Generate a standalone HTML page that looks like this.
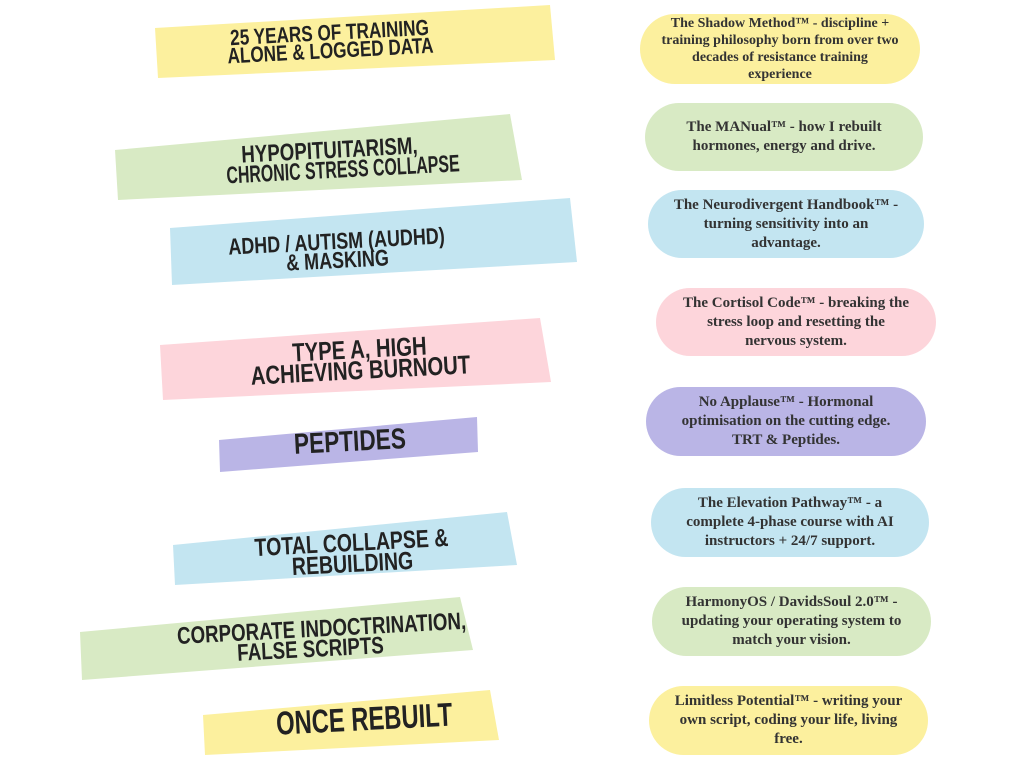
<!DOCTYPE html>
<html><head><meta charset="utf-8"><style>
html,body{margin:0;padding:0;background:#fff;width:1024px;height:768px;overflow:hidden;position:relative}
svg{position:absolute;left:0;top:0}
.t{position:absolute;font-family:"Liberation Sans",sans-serif;font-weight:bold;color:#222;text-align:center;line-height:0.82;transform:rotate(-3deg) scaleX(0.78);white-space:nowrap}
.p{position:absolute;border-radius:36px;display:flex;align-items:center;justify-content:center;text-align:center;font-family:"Liberation Serif",serif;font-weight:bold;font-size:15px;line-height:19px;color:#333;box-sizing:border-box;padding:0;white-space:nowrap}
</style></head><body>
<svg width="1024" height="768">
<polygon points="155,28 550,5 555,60 158,78" fill="#fcf09e"/>
<polygon points="115,150 510,114 522,180 118,200" fill="#d8eac4"/>
<polygon points="170,228 570,198 577,262 172,285" fill="#c3e5f1"/>
<polygon points="160,345 540,318 551,382 163,400" fill="#fdd5db"/>
<polygon points="219,440 477,417 478,452 220,472" fill="#bab5e6"/>
<polygon points="173,545 507,512 517,565 175,585" fill="#c3e5f1"/>
<polygon points="80,632 460,597 473,650 82,680" fill="#d8eac4"/>
<polygon points="203,715 490,690 499,740 205,755" fill="#fcf09e"/>
</svg>
<div class="t" style="left:180px;top:24px;width:300px;font-size:22px">25 YEARS OF TRAINING<br>ALONE &amp; LOGGED DATA</div>
<div class="t" style="left:170px;top:141px;width:320px;font-size:24px">HYPOPITUITARISM,<br><span style="display:inline-block;transform:scaleX(0.85)">CHRONIC STRESS COLLAPSE</span></div>
<div class="t" style="left:187px;top:232px;width:300px;font-size:23px">ADHD / AUTISM (AUDHD)<br>&amp; MASKING</div>
<div class="t" style="left:210px;top:339px;width:300px;font-size:26px">TYPE A, HIGH<br>ACHIEVING BURNOUT</div>
<div class="t" style="left:250px;top:431px;width:200px;font-size:29px">PEPTIDES</div>
<div class="t" style="left:202px;top:533px;width:300px;font-size:25px">TOTAL COLLAPSE &amp;<br>REBUILDING</div>
<div class="t" style="left:140px;top:620px;width:340px;font-size:24px">CORPORATE INDOCTRINATION,<br>FALSE SCRIPTS</div>
<div class="t" style="left:248px;top:706px;width:200px;font-size:33px;transform:rotate(-3deg) scaleX(0.72)">ONCE REBUILT</div>

<div class="p" style="left:640px;top:14px;width:280px;height:70px;background:#fcf09e;font-size:14px;line-height:17px">The Shadow Method™ - discipline +<br>training philosophy born from over two<br>decades of resistance training<br>experience</div>
<div class="p" style="left:645px;top:103px;width:278px;height:68px;background:#d8eac4">The MANual™ - how I rebuilt<br>hormones, energy and drive.</div>
<div class="p" style="left:648px;top:190px;width:276px;height:68px;background:#c3e5f1">The Neurodivergent Handbook™ -<br>turning sensitivity into an<br>advantage.</div>
<div class="p" style="left:656px;top:288px;width:280px;height:68px;background:#fdd5db">The Cortisol Code™ - breaking the<br>stress loop and resetting the<br>nervous system.</div>
<div class="p" style="left:646px;top:387px;width:280px;height:69px;background:#bab5e6">No Applause™ - Hormonal<br>optimisation on the cutting edge.<br>TRT &amp; Peptides.</div>
<div class="p" style="left:651px;top:488px;width:278px;height:69px;background:#c3e5f1">The Elevation Pathway™ - a<br>complete 4-phase course with AI<br>instructors + 24/7 support.</div>
<div class="p" style="left:652px;top:587px;width:279px;height:69px;background:#d8eac4">HarmonyOS / DavidsSoul 2.0™ -<br>updating your operating system to<br>match your vision.</div>
<div class="p" style="left:649px;top:686px;width:279px;height:69px;background:#fcf09e">Limitless Potential™ - writing your<br>own script, coding your life, living<br>free.</div>
</body></html>
